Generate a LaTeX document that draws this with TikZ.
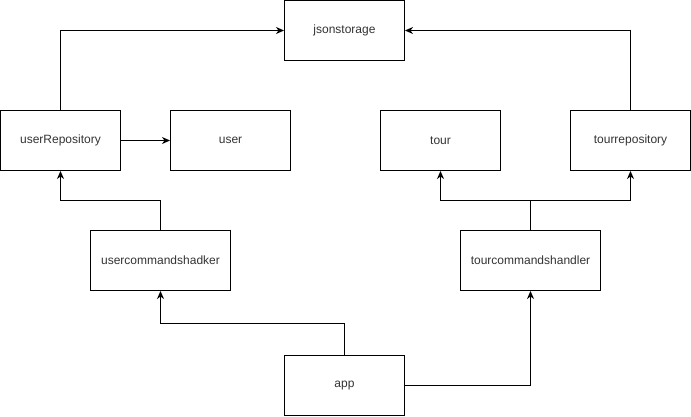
\documentclass[tikz,border=0pt]{standalone}
\usepackage{fontspec}
\setmainfont{Liberation Sans}
\usetikzlibrary{arrows.meta}
\begin{document}
\begin{tikzpicture}[x=1pt,y=-1pt,
  box/.style={draw=black,line width=1pt,minimum width=120pt,minimum height=60pt,inner sep=0pt,font=\fontsize{12pt}{14pt}\selectfont,text=black!80},
  wbox/.style={box,minimum width=140pt},
  conn/.style={line width=1pt,-{Stealth[length=8pt,width=7pt,inset=2.5pt]}},
  plain/.style={line width=1pt}]
\useasboundingbox (0,0) rectangle (691,416);
\node[box] (json) at (344.5,30.5) {jsonstorage};
\node[box] (urepo) at (60.5,140.5) {userRepository};
\node[box] (user) at (230.5,140.5) {user};
\node[box] (tour) at (440.5,140.5) {tour};
\node[box] (trepo) at (630.5,140.5) {tourrepository};
\node[wbox] (ucmd) at (160.5,260.5) {usercommandshadker};
\node[wbox] (tcmd) at (530.5,260.5) {tourcommandshandler};
\node[box] (app) at (344.5,385.5) {app};
\coordinate (tsplit) at (530.5,200.5);
\draw[conn] (urepo.north) |- (json.west);
\draw[conn] (trepo.north) |- (json.east);
\draw[conn] (urepo.east) -- (user.west);
\draw[conn] (ucmd.north) -- ++(0,-30) -| (urepo.south);
\draw[plain] (tcmd.north) -- (tsplit);
\draw[conn] (tsplit) -| (tour.south);
\draw[conn] (tsplit) -| (trepo.south);
\draw[conn] (app.north) -- ++(0,-32) -| (ucmd.south);
\draw[conn] (app.east) -| (tcmd.south);
\end{tikzpicture}
\end{document}
